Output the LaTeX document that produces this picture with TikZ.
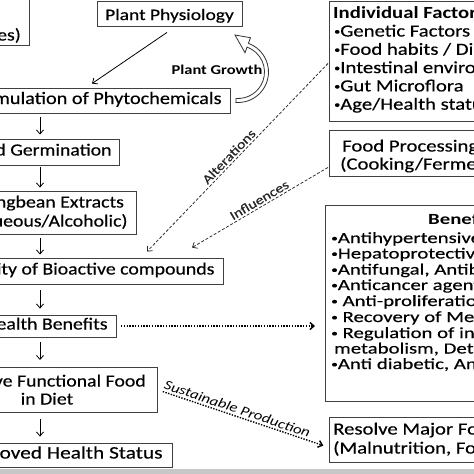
\documentclass[tikz,border=0pt]{standalone}
\usepackage{fontspec}
\setmainfont{Carlito}[FakeStretch=1.22, UprightFeatures={FakeBold=0.4}]
\newfontfamily\leftfont{Carlito}[FakeStretch=1.165, UprightFeatures={FakeBold=0.4}]
\newfontfamily\benfont{Carlito}[FakeStretch=1.34, UprightFeatures={FakeBold=0.4}]
\newcommand\mybul[1]{\raisebox{#1}{\fontsize{10}{10}\selectfont •}}
\usetikzlibrary{arrows.meta,calc}
\begin{document}
\begin{tikzpicture}[x=1pt,y=-1pt,
 box/.style={draw=black!75, line width=0.9pt, fill=white, inner ysep=0pt, font=\leftfont\fontsize{17}{19}\selectfont},
 onel/.style={text height=11pt, text depth=4pt},
 txt/.style={inner sep=0pt, font=\fontsize{17}{19}\selectfont, text height=11pt, text depth=0pt},
 btxt/.style={inner sep=0pt, font=\benfont\fontsize{15.5}{16}\selectfont, text height=10pt, text depth=0pt},
 arr/.style={line width=0.8pt, -{Straight Barb[length=4pt,width=7pt]}},
 dsh/.style={line width=0.75pt, black!85, dash pattern=on 3pt off 1.8pt, -{Straight Barb[length=4pt,width=7pt]}},
 dot/.style={line width=1.4pt, dash pattern=on 1.4pt off 1.4pt, -{Straight Barb[length=4pt,width=7pt]}},
 lbl/.style={font=\fontsize{13}{15}\selectfont, inner sep=2pt}
]
\useasboundingbox (0,0) rectangle (474,474);
\clip (0,0) rectangle (474,474);
\fill[white] (0,0) rectangle (474,474);
\fill[black!22] (0,469) rectangle (474,474);

% left column
\node[box, anchor=south east, minimum width=120pt, minimum height=70pt] (src) at (30,46) {};
\node[txt, anchor=east, font=\leftfont\fontsize{17}{19}\selectfont] (srct) at (21,35) {(Different Varieties)};
\node[box, onel, text height=17pt, minimum width=145pt, minimum height=25pt, font=\fontsize{16}{19}\selectfont] (pp) at (169.5,13.5) {Plant Physiology};
\node[box, onel, anchor=east, minimum height=25pt, inner xsep=9pt, font=\leftfont\fontsize{17.4}{19}\selectfont] (acc) at (231,100.5) {Accumulation of Phytochemicals};
\node[box, onel, anchor=east, minimum height=26pt, inner xsep=8pt] (germ) at (120,152) {Seed Germination};
\node[box, anchor=east, minimum height=43pt, inner xsep=9pt, align=center] (ext) at (137,212.5) {Mungbean Extracts\\(Aqueous/Alcoholic)};
\node[box, onel, anchor=east, minimum height=26pt, inner xsep=9pt] (bio) at (224,271) {Bioavailability of Bioactive compounds};
\node[box, onel, anchor=east, minimum height=22pt, inner xsep=9pt] (hb) at (117,326) {Health Benefits};
\node[box, anchor=north east, minimum width=250pt, minimum height=45pt] (ff) at (158,367) {};
\node[txt, anchor=east, font=\leftfont\fontsize{17}{19}\selectfont] (ff1) at (146,381) {Effective Functional Food};
\node[txt, font=\leftfont\fontsize{17}{19}\selectfont] (ff2) at (47,399) {in Diet};
\node[box, onel, anchor=east, minimum height=24pt, inner xsep=10pt, font=\fontsize{17.5}{19}\selectfont] (ihs) at (173,455) {Improved Health Status};

% right column
\node[box, anchor=north west, minimum width=200pt, minimum height=120pt] (ind) at (329,1) {};
\node[txt, anchor=base west, font=\fontsize{17}{19}\selectfont\bfseries] (indh) at (333,18.5) {Individual Factors};
\node[txt, anchor=base west] (ind1) at (334,36.5) {\mybul{1.8pt}Genetic Factors};
\node[txt, anchor=base west] (ind2) at (334,54.8) {\mybul{1.8pt}Food habits / Diet};
\node[txt, anchor=base west] (ind3) at (334,73.1) {\mybul{1.8pt}Intestinal environment};
\node[txt, anchor=base west] (ind4) at (334,91.4) {\mybul{1.8pt}Gut Microflora};
\node[txt, anchor=base west] (ind5) at (334,109.7) {\mybul{1.8pt}Age/Health status};

\node[box, anchor=north west, minimum width=200pt, minimum height=46pt] (fp) at (329,130) {};
\node[txt, anchor=west] (fp1) at (342,146) {Food Processing};
\node[txt, anchor=west] (fp2) at (340,164) {(Cooking/Fermentation)};

\node[box, anchor=north west, minimum width=200pt, minimum height=196pt] (ben) at (325,205) {};
\node[btxt, anchor=west, font=\benfont\fontsize{15.5}{16}\selectfont\bfseries] (benh) at (428,219) {Benefits};
\node[btxt, anchor=west] (b1) at (331,238) {\mybul{1.5pt}Antihypertensive, Antioxidant};
\node[btxt, anchor=west] (b2) at (331,253.5) {\mybul{1.5pt}Hepatoprotective, Immunomodulatory};
\node[btxt, anchor=west] (b3) at (331,269.5) {\mybul{1.5pt}Antifungal, Antibacterial};
\node[btxt, anchor=west] (b4) at (331,285) {\mybul{1.5pt}Anticancer agent};
\node[btxt, anchor=west] (b5) at (331,301) {\mybul{1.5pt} Anti-proliferation};
\node[btxt, anchor=west] (b6) at (331,317) {\mybul{1.5pt} Recovery of Memory};
\node[btxt, anchor=west] (b7) at (331,333) {\mybul{1.5pt} Regulation of intestinal};
\node[btxt, anchor=west] (b8) at (334,348.5) {metabolism, Detoxification};
\node[btxt, anchor=west] (b9) at (331,364) {\mybul{1.5pt}Anti diabetic, Antisepsis};

\node[box, anchor=north west, minimum width=200pt, minimum height=45pt] (res) at (329,417) {};
\node[txt, anchor=west] (res1) at (333,429) {Resolve Major Food Problems};
\node[txt, anchor=west] (res2) at (333,448) {(Malnutrition, Food Security)};

% connectors
\coordinate (colx) at (40,0);
\draw[arr] ([xshift=-2.5pt,yshift=-6pt]pp.south) -- ([xshift=-139pt,yshift=4pt]acc.north east);
\draw[arr, shorten <=4pt, shorten >=4pt] (acc.south -| colx) -- (germ.north -| colx);
\draw[arr, shorten <=2pt, shorten >=3pt] (germ.south -| colx) -- (ext.north -| colx);
\draw[arr, shorten <=4pt, shorten >=3pt] (ext.south -| colx) -- (bio.north -| colx);
\draw[arr, shorten <=6pt, shorten >=6pt] (bio.south -| colx) -- (hb.north -| colx);
\draw[arr, shorten <=5pt, shorten >=7pt] (hb.south -| colx) -- (ff.north -| colx);
\draw[arr, shorten <=6pt, shorten >=6pt] (ff.south -| colx) -- (ihs.north -| colx);

\draw[dsh] ([xshift=-1pt,yshift=-2pt]ind.west) -- node[lbl, sloped, above, pos=0.52] {Alterations} ([xshift=-77pt,yshift=6pt]bio.north east);
\draw[dsh] ([xshift=-1pt,yshift=-14pt]fp.west) -- node[lbl, sloped, above, pos=0.48] {Influences} ([xshift=-32pt,yshift=10pt]bio.north east);
\draw[dot, shorten <=4pt, shorten >=10pt] (hb.east) -- (hb.east -| ben.west);
\draw[dot, shorten <=5pt, shorten >=6pt] (ff.east) -- node[lbl, sloped, above, pos=0.45, font=\fontsize{13.5}{15}\selectfont\itshape] {Sustainable Production} ([yshift=-7.5pt]res.west);

% plant growth cycle arrow
\coordinate (gc) at (238,72);
\coordinate (gtip) at (235,35);
\draw[black!80, line width=0.8pt, fill=white, line join=miter]
  ($(gc)+(-94:30.5pt)$) arc[start angle=-94, end angle=70, radius=30.5pt]
  -- ($(gc)+(70:36.5pt)$) -- (gtip) -- ($(gc)+(70:20.5pt)$) -- ($(gc)+(70:26.5pt)$)
  arc[start angle=70, end angle=-94, radius=26.5pt] -- cycle;
\node[lbl, font=\fontsize{13.5}{16}\selectfont\bfseries] (pg) at (217,70) {Plant Growth};
\end{tikzpicture}
\end{document}
